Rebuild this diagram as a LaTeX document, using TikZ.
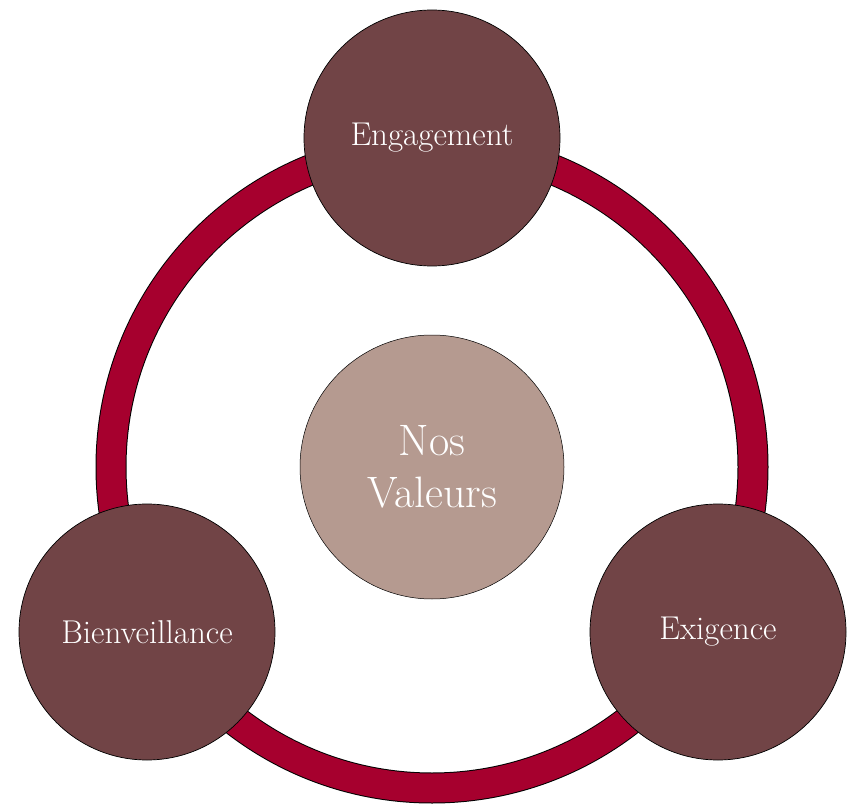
\documentclass[tikz,border=0pt]{standalone}
\usepackage{fontspec}
\definecolor{outerfill}{HTML}{714446}
\definecolor{ringred}{HTML}{A6002E}
\definecolor{centerfill}{HTML}{B59A90}
\begin{document}
\begin{tikzpicture}[x=1pt,y=-1pt,
  valuecircle/.style={circle,draw=black,line width=0.7pt,fill=outerfill,minimum size=256pt,inner sep=0pt,text=white,font=\fontsize{33}{38}\selectfont},
  centercircle/.style={circle,draw=black,line width=0.5pt,fill=centerfill,minimum size=264pt,inner sep=0pt,text=white,align=center,font=\fontsize{44}{52}\selectfont}]
\useasboundingbox (0,0) rectangle (852,805);
\coordinate (c) at (432,467);
\draw[line width=31pt,black] (c) circle[radius=321pt];
\draw[line width=29pt,ringred] (c) circle[radius=321pt];
\node[centercircle] (center) at (c) {Nos\\Valeurs};
\node[valuecircle] (top) at (432,138) {Engagement};
\node[valuecircle] (left) at (147,632) {Bienveillance};
\node[valuecircle] (right) at (718,632) {Exigence};
\end{tikzpicture}
\end{document}
